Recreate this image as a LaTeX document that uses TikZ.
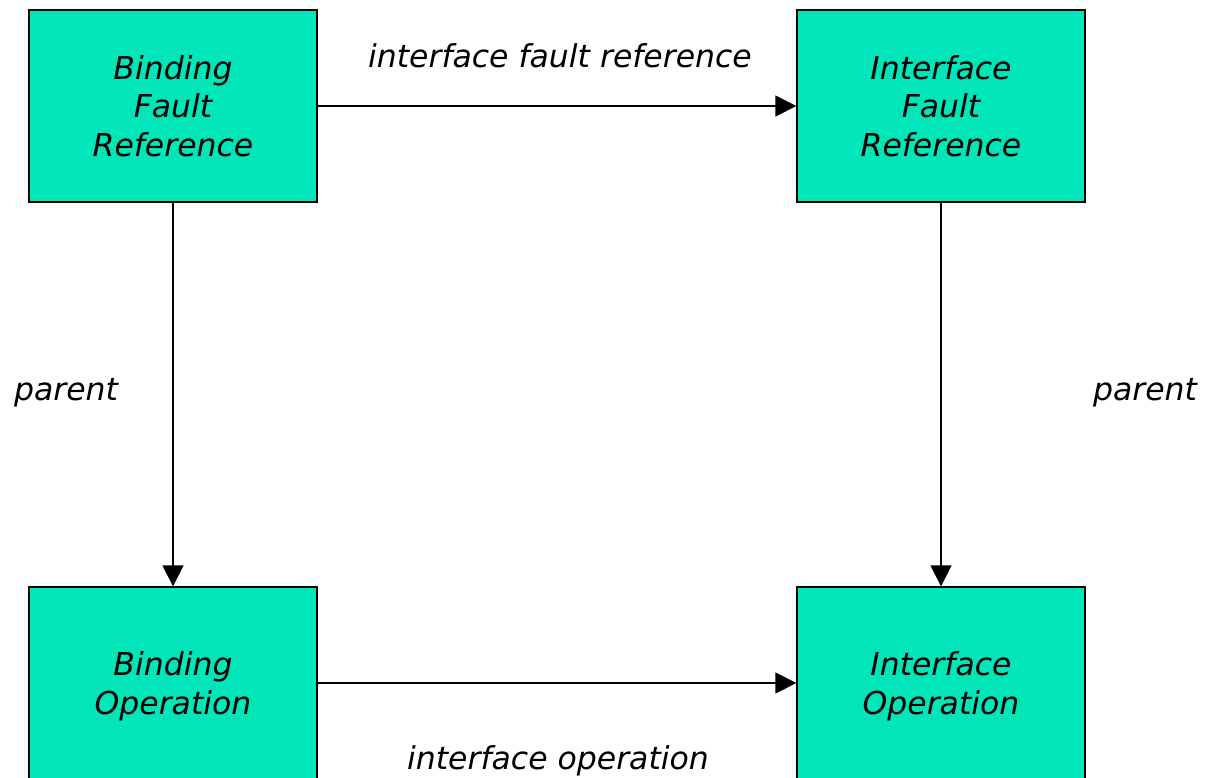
\documentclass[tikz,border=0pt]{standalone}
\usepackage{fontspec}
\setmainfont{DejaVu Sans}
\usetikzlibrary{arrows.meta}
\definecolor{boxfill}{RGB}{0,230,184}
\tikzset{
  entity/.style={draw=black, line width=1.3pt, fill=boxfill, minimum width=288pt,
    minimum height=192pt, inner sep=0pt, align=center,
    font=\fontsize{31.5}{38.5}\selectfont\itshape},
  lbl/.style={font=\fontsize{31.5}{38}\selectfont\itshape, inner sep=0pt},
  rel/.style={line width=1.3pt, -{Triangle[length=21pt,width=21pt]}}
}
\begin{document}
\begin{tikzpicture}[x=1pt,y=-1pt]
\useasboundingbox (0,0) rectangle (1205,778);
\clip (0,0) rectangle (1205,778);
\fill[white] (0,0) rectangle (1205,778);
\node[entity] (bfr) at (173,106) {Binding\\Fault\\Reference};
\node[entity] (ifr) at (941,106) {Interface\\Fault\\Reference};
\node[entity, text depth=0pt] (bop) at (173,683) {Binding\\Operation};
\node[entity, text depth=0pt] (iop) at (941,683) {Interface\\Operation};
\draw[rel] (bfr) -- (ifr);
\draw[rel] (bfr) -- (bop);
\draw[rel] (ifr) -- (iop);
\draw[rel] (bop) -- (iop);
\node[lbl] (l1) at (560,56) {interface fault reference};
\node[lbl] (l2) at (66,393) {parent};
\node[lbl] (l3) at (1145,393) {parent};
\node[lbl] (l4) at (558,761) {interface operation};
\end{tikzpicture}
\end{document}
